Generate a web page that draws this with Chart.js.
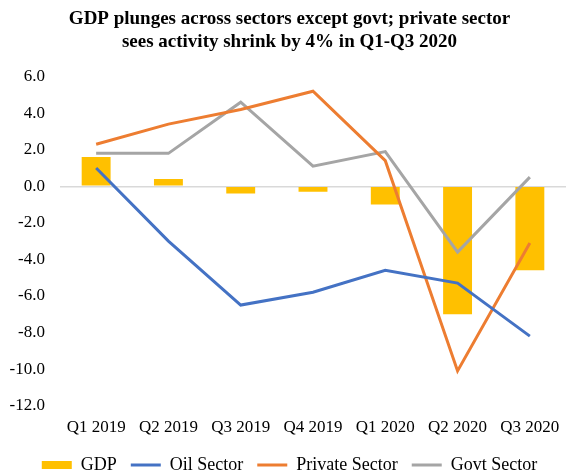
<!DOCTYPE html>
<html>
<head>
<meta charset="utf-8">
<script src="https://cdn.jsdelivr.net/npm/chart.js@4"></script>
<style>
  html, body { margin: 0; padding: 0; background: #fff; }
  #wrap { width: 566px; height: 470px; }
</style>
</head>
<body>
<div id="wrap"><canvas id="gdpChart"></canvas></div>
<script>
// quarterly growth, %
const quarters = ['Q1 2019', 'Q2 2019', 'Q3 2019', 'Q4 2019', 'Q1 2020', 'Q2 2020', 'Q3 2020'];
const gdp = [1.6, 0.4, -0.4, -0.3, -1.0, -7.0, -4.6];
const oilSector = [1.0, -3.0, -6.5, -5.8, -4.6, -5.3, -8.2];
const privateSector = [2.3, 3.4, 4.2, 5.2, 1.4, -10.1, -3.1];
const govtSector = [1.8, 1.8, 4.6, 1.1, 1.9, -3.6, 0.5];

const serif = '"Liberation Serif", "Times New Roman", serif';

function lineSet(label, data, color) {
    return {
        type: 'line',
        label: label,
        data: data,
        borderColor: color,
        backgroundColor: color,
        borderWidth: 3,
        pointRadius: 0,
        tension: 0,
        order: 0
    };
}

new Chart(document.getElementById('gdpChart'), {
    type: 'bar',
    data: {
        labels: quarters,
        datasets: [
            {
                label: 'GDP',
                data: gdp,
                backgroundColor: '#FFC000',
                barPercentage: 0.4,
                categoryPercentage: 1.0,
                order: 1
            },
            lineSet('Oil Sector', oilSector, '#4472C4'),
            lineSet('Private Sector', privateSector, '#ED7D31'),
            lineSet('Govt Sector', govtSector, '#A5A5A5')
        ]
    },
    options: {
        responsive: true,
        maintainAspectRatio: false,
        animation: false,
        layout: { padding: { left: 6, right: -7, top: 0, bottom: -10 } },
        plugins: {
            title: {
                display: true,
                text: ['GDP plunges across sectors except govt; private sector',
                       'sees activity shrink by 4% in Q1-Q3 2020'],
                color: '#000',
                font: { family: serif, size: 19, weight: 'bold', lineHeight: 1.2 },
                padding: { top: 8, bottom: 23 }
            },
            legend: {
                position: 'bottom',
                maxHeight: 38,
                labels: {
                    color: '#000',
                    font: { family: serif, size: 18 },
                    usePointStyle: true,
                    pointStyleWidth: 30,
                    boxHeight: 8,
                    padding: 14,
                    sort: (a, b) => a.datasetIndex - b.datasetIndex,
                    generateLabels: (chart) => chart.data.datasets.map((ds, i) => ({
                        text: ds.label,
                        datasetIndex: i,
                        fillStyle: ds.backgroundColor,
                        strokeStyle: ds.type === 'line' ? ds.borderColor : ds.backgroundColor,
                        lineWidth: ds.type === 'line' ? 3 : 0,
                        pointStyle: ds.type === 'line' ? 'line' : 'rect',
                        fontColor: '#000',
                        hidden: false
                    }))
                }
            },
            tooltip: { enabled: false }
        },
        scales: {
            x: {
                grid: { display: false },
                border: { display: false },
                ticks: {
                    color: '#000',
                    font: { family: serif, size: 17 },
                    maxRotation: 0,
                    padding: 4
                }
            },
            y: {
                min: -12,
                max: 6,
                border: { display: false },
                grid: {
                    drawTicks: false,
                    lineWidth: 1.5,
                    color: (ctx) => ctx.tick && ctx.tick.value === 0 ? '#D9D9D9' : 'rgba(0,0,0,0)'
                },
                ticks: {
                    stepSize: 2,
                    color: '#000',
                    font: { family: serif, size: 17 },
                    padding: 15,
                    callback: (v) => v.toFixed(1)
                },
                afterFit: (scale) => { scale.width = 54; }
            }
        }
    }
});
</script>
</body>
</html>
